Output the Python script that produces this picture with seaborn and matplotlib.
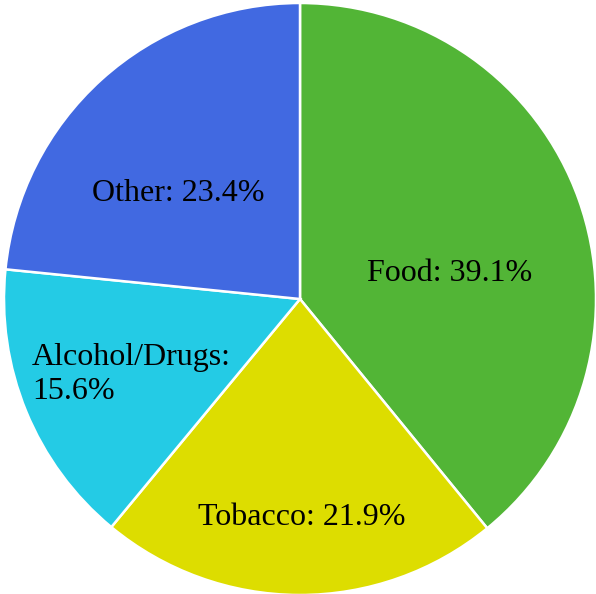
import matplotlib
matplotlib.use("Agg")
import matplotlib.pyplot as plt
import seaborn as sns

# === Data ===
categories = ["Food", "Tobacco", "Alcohol/Drugs", "Other"]
shares = [39.1, 21.9, 15.6, 23.4]
colors = ["#52b536", "#dddd00", "#24cbe5", "#4169e1"]

# label positions (data units, pie radius = 1) and alignment
label_xy = [(0.507, 0.085), (0.007, -0.738), (-0.905, -0.255), (-0.412, 0.358)]
label_ha = ["center", "center", "left", "center"]
label_text = ["Food: 39.1%", "Tobacco: 21.9%", "Alcohol/Drugs:\n15.6%", "Other: 23.4%"]

sns.set_theme(style="white")
plt.rcParams["font.family"] = ["Liberation Serif", "DejaVu Serif"]

fig = plt.figure(figsize=(5.96, 5.94), dpi=100)
ax = fig.add_axes([0, 0, 1, 1])

ax.pie(shares, colors=sns.color_palette(colors), startangle=90, counterclock=False,
       wedgeprops=dict(edgecolor="white", linewidth=1.8))

for (x, y), ha, txt in zip(label_xy, label_ha, label_text):
    ax.text(x, y, txt, ha=ha, va="center", fontsize=23, color="black", linespacing=1.22)

r = 296
ax.set_xlim(-300 / r, 296 / r)
ax.set_ylim(-295 / r, 299 / r)
ax.set_aspect("equal")
ax.axis("off")

fig.savefig("out.png", dpi=100, facecolor="white")
plt.close(fig)
